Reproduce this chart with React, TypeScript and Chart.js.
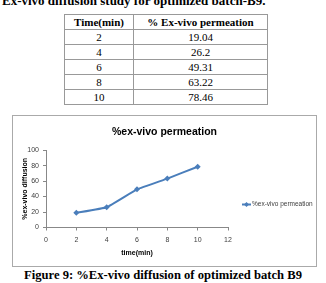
import React, { useEffect, useRef } from "react";
import { Chart, registerables } from "chart.js";

Chart.register(...registerables);

const times = [2, 4, 6, 8, 10];
const permeation = [19.04, 26.2, 49.31, 63.22, 78.46];
const seriesLabel = "%ex-vivo permeation";
const chartTitle = "%ex-vivo permeation";
const xTitle = "time(min)";
const yTitle = "%ex-vivo diffusion";
const tableHeaders = ["Time(min)", "% Ex-vivo permeation"];
const heading = "Ex-vivo diffusion study for optimized batch-B9.";
const caption = "Figure 9: %Ex-vivo diffusion of optimized batch B9";

const LINE = "#4a7ebb";
const SANS = "'Liberation Sans', Arial, sans-serif";
const SERIF = "'Liberation Serif', 'Times New Roman', serif";

const legendPlugin = {
  id: "customLegend",
  afterDraw(chart: any) {
    const ctx = chart.ctx;
    const ds = chart.data.datasets[0];
    const x0 = chart.chartArea.right + 14;
    const y = 89.5;
    ctx.save();
    ctx.strokeStyle = LINE;
    ctx.lineWidth = 2;
    ctx.beginPath();
    ctx.moveTo(x0, y);
    ctx.lineTo(x0 + 9, y);
    ctx.stroke();
    ctx.fillStyle = LINE;
    const cx = x0 + 4.5;
    const r = 2.5;
    ctx.beginPath();
    ctx.moveTo(cx, y - r);
    ctx.lineTo(cx + r, y);
    ctx.lineTo(cx, y + r);
    ctx.lineTo(cx - r, y);
    ctx.closePath();
    ctx.fill();
    ctx.fillStyle = "#404040";
    ctx.font = `6.5px ${SANS}`;
    ctx.textBaseline = "middle";
    ctx.textAlign = "left";
    ctx.fillText(ds.label, x0 + 10, y);
    ctx.restore();
  },
};

function ChartBox() {
  const ref = useRef<HTMLCanvasElement | null>(null);
  useEffect(() => {
    if (!ref.current) return;
    const chart = new Chart(ref.current, {
      type: "line",
      data: {
        datasets: [
          {
            label: seriesLabel,
            data: times.map((t, i) => ({ x: t, y: permeation[i] })),
            borderColor: LINE,
            backgroundColor: LINE,
            borderWidth: 2,
            pointStyle: "rectRot",
            pointRadius: 3,
            pointBorderWidth: 0,
            tension: 0.1,
            yAxisID: "y",
          },
        ],
      },
      options: {
        animation: false,
        responsive: false,
        maintainAspectRatio: false,
        layout: { padding: 0 },
        plugins: {
          legend: { display: false },
          tooltip: { enabled: false },
          title: {
            display: true,
            text: chartTitle,
            color: "#000",
            font: { family: SANS, size: 10.5, weight: "bold" },
            padding: { top: 10.5, bottom: 12 },
          },
        },
        scales: {
          x: {
            type: "linear",
            min: 0,
            max: 12,
            afterFit: (s: any) => {
              s.height = 39.5;
            },
            ticks: {
              stepSize: 2,
              color: "#404040",
              font: { family: SANS, size: 7 },
              padding: 5,
            },
            grid: {
              display: true,
              drawOnChartArea: false,
              drawTicks: true,
              tickLength: 3,
              color: "#888",
            },
            border: { color: "#888" },
            title: {
              display: true,
              text: xTitle,
              color: "#000",
              font: { family: SANS, size: 7, weight: "bold" },
              padding: { top: 0, bottom: 10 },
            },
          },
          y: {
            min: 0,
            max: 100,
            afterFit: (s: any) => {
              s.width = 34;
            },
            ticks: {
              stepSize: 20,
              color: "#404040",
              font: { family: SANS, size: 7 },
              padding: 4,
            },
            grid: {
              display: true,
              drawOnChartArea: false,
              drawTicks: true,
              tickLength: 3,
              color: "#888",
            },
            border: { color: "#888" },
            title: {
              display: true,
              text: yTitle,
              color: "#000",
              font: { family: SANS, size: 7, weight: "bold" },
              padding: { top: 9, bottom: 0 },
            },
          },
          yRightSpace: {
            position: "right",
            min: 0,
            max: 100,
            display: true,
            afterFit: (s: any) => {
              s.width = 89;
            },
            ticks: { display: false },
            grid: { display: false, drawTicks: false },
            border: { display: false },
          },
        },
      },
      plugins: [legendPlugin],
    } as any);
    return () => chart.destroy();
  }, []);
  return <canvas ref={ref} width={305} height={152} style={{ display: "block" }} />;
}

const cell: React.CSSProperties = {
  border: "1px solid #999",
  padding: 0,
  height: 14,
  lineHeight: "14px",
  textAlign: "center",
  fontSize: 11,
};

export default function App() {
  return (
    <div
      style={{
        position: "absolute",
        left: 0,
        top: 0,
        width: 326,
        height: 283,
        overflow: "hidden",
        background: "#fff",
        fontFamily: SERIF,
        color: "#000",
      }}
    >
      <div
        style={{
          position: "absolute",
          left: 2,
          top: -7,
          fontWeight: "bold",
          fontSize: 13,
          lineHeight: "15px",
          whiteSpace: "nowrap",
        }}
      >
        {heading}
      </div>
      <table
        style={{
          position: "absolute",
          left: 64,
          top: 14,
          width: 204,
          borderCollapse: "collapse",
        }}
      >
        <thead>
          <tr>
            <th style={{ ...cell, width: 68, fontWeight: "bold" }}>{tableHeaders[0]}</th>
            <th style={{ ...cell, fontWeight: "bold" }}>{tableHeaders[1]}</th>
          </tr>
        </thead>
        <tbody>
          {times.map((t, i) => (
            <tr key={t}>
              <td style={cell}>{String(t)}</td>
              <td style={cell}>{String(permeation[i])}</td>
            </tr>
          ))}
        </tbody>
      </table>
      <div
        style={{
          position: "absolute",
          left: 12,
          top: 115,
          width: 305,
          height: 152,
          boxSizing: "border-box",
          border: "1px solid #aaa",
        }}
      />
      <div style={{ position: "absolute", left: 12, top: 115 }}>
        <ChartBox />
      </div>
      <div
        style={{
          position: "absolute",
          left: 0,
          width: 326,
          top: 268,
          textAlign: "center",
          fontWeight: "bold",
          fontSize: 12.6,
          lineHeight: "15px",
          whiteSpace: "nowrap",
        }}
      >
        {caption}
      </div>
    </div>
  );
}
